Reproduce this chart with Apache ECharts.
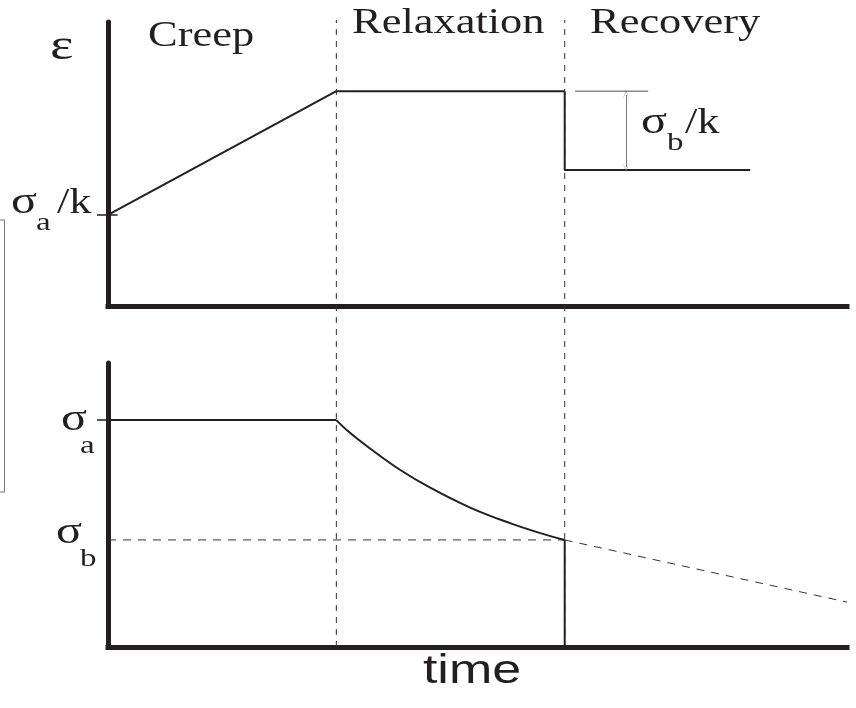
<!DOCTYPE html>
<html>
<head>
<meta charset="utf-8">
<script src="https://cdn.jsdelivr.net/npm/echarts@6/dist/echarts.min.js"></script>
<style>
html, body { margin: 0; padding: 0; background: #fff; }
#chart { width: 856px; height: 708px; }
</style>
</head>
<body>
<div id="chart"></div>
<script>
// time runs 0..100 (arbitrary units), shared by both panels
const tCreepEnd = 30.9
const tRelaxEnd = 61.8
const tRecoveryEnd = 86.9
const tMax = 100

// strain panel (top), arbitrary units 0..100
const strainCreep = [[0, 32.2], [tCreepEnd, 75.7]]
const strainHold = [[tCreepEnd, 75.7], [tRelaxEnd, 75.7]]
const strainRecovery = [[tRelaxEnd, 75.7], [tRelaxEnd, 48.0], [tRecoveryEnd, 48.0]]
const strainRefLine = [[63.2, 75.7], [73.1, 75.7]]
const strainArrow = [[70.1, 74.3], [70.1, 49.0]]
const strainTick = [[0, 32.2], [1.3, 32.2]]

// stress panel (bottom), arbitrary units 0..100
const stressHold = [[0, 79.9], [tCreepEnd, 79.9]]
const stressRelax = [
  [30.9, 79.9], [32.7, 75.5], [35.5, 69.8], [39.5, 62.4], [43.6, 56.1],
  [49.0, 49.1], [54.4, 43.6], [58.5, 40.1], [61.8, 37.7]
]
const stressDrop = [[tRelaxEnd, 37.7], [tRelaxEnd, 0]]
const stressBLevel = [[0, 37.7], [tRelaxEnd, 37.7]]
const stressExtrap = [[tRelaxEnd, 37.7], [tMax, 15.8]]

const ink = '#231f20'
const serif = '"Liberation Serif", "DejaVu Serif", serif'
const stretch = 1.27

function solid (name, data, grid, color, width) {
  return {
    name: name, type: 'line', data: data,
    xAxisIndex: grid, yAxisIndex: grid,
    symbol: 'none', silent: true,
    lineStyle: { color: color || ink, width: width || 2 }
  }
}
function dashed (name, data, grid, dash) {
  return {
    name: name, type: 'line', data: data,
    xAxisIndex: grid, yAxisIndex: grid,
    symbol: 'none', silent: true,
    lineStyle: { color: '#333', width: 1, type: dash || [8, 7] }
  }
}
function txt (text, x, y, size) {
  return {
    type: 'text', x: x, y: y, scaleX: stretch,
    style: {
      text: text, fill: ink,
      font: (size || 35) + 'px ' + serif,
      textAlign: 'left', textVerticalAlign: 'middle'
    }
  }
}

const chart = echarts.init(document.getElementById('chart'))
const xAxisBase = {
  type: 'value', min: 0, max: tMax,
  axisLine: { show: true, lineStyle: { color: ink, width: 5, cap: 'square' } },
  axisTick: { show: false }, axisLabel: { show: false }, splitLine: { show: false }
}
const yAxisBase = {
  type: 'value', min: 0, max: 100,
  axisLine: { show: true, lineStyle: { color: ink, width: 5 } },
  axisLabel: { show: false }, splitLine: { show: false }
}

const options = {
  animation: false,
  backgroundColor: '#fff',
  grid: [
    { left: 108, top: 22, width: 739, height: 284.5 },
    { left: 108, top: 363, width: 739, height: 284 },
    { left: 108, top: 20, width: 739, height: 627 }
  ],
  xAxis: [
    Object.assign({ gridIndex: 0 }, xAxisBase),
    Object.assign({ gridIndex: 1 }, xAxisBase),
    { gridIndex: 2, type: 'value', min: 0, max: tMax, show: false }
  ],
  yAxis: [
    Object.assign({ gridIndex: 0 }, yAxisBase, {
      axisTick: { show: true, customValues: [32.2], length: 11, lineStyle: { color: ink, width: 1.5 } }
    }),
    Object.assign({ gridIndex: 1 }, yAxisBase, {
      axisTick: { show: true, customValues: [79.9], length: 11, lineStyle: { color: ink, width: 1.5 } }
    }),
    { gridIndex: 2, type: 'value', min: 0, max: 1, show: false }
  ],
  series: [
    dashed('phase1', [[tCreepEnd, 0], [tCreepEnd, 1]], 2, [6, 6]),
    dashed('phase2', [[tRelaxEnd, 0], [tRelaxEnd, 1]], 2, [6, 6]),
    solid('strainTick', strainTick, 0, ink, 1.5),
    solid('creep', strainCreep, 0),
    solid('hold', strainHold, 0),
    solid('recovery', strainRecovery, 0),
    Object.assign(solid('ref', strainRefLine, 0, '#888', 1.5), {
      markLine: {
        silent: true,
        symbol: ['path://M0,10 L5,0 L10,10 L5,1.5 Z', 'path://M0,10 L5,0 L10,10 L5,1.5 Z'],
        symbolSize: [7, 10],
        label: { show: false },
        lineStyle: { color: '#777', width: 1, type: 'solid' },
        data: [[{ coord: strainArrow[0] }, { coord: strainArrow[1] }]]
      }
    }),
    dashed('sigmaB', stressBLevel, 1),
    dashed('extrap', stressExtrap, 1),
    solid('stressHold', stressHold, 1),
    Object.assign(solid('stressRelax', stressRelax, 1), { smooth: 0.4 }),
    solid('stressDrop', stressDrop, 1)
  ],
  graphic: [
    txt('Creep', 148, 36.5),
    txt('Relaxation', 352, 23.5),
    txt('Recovery', 590, 23.5),
    txt('ε', 50, 47, 44),
    txt('σ', 11, 203, 38), txt('a', 36, 223, 26), txt('/k', 57, 203.5),
    txt('σ', 61, 420, 38), txt('a', 80, 446, 26),
    txt('σ', 56, 533, 38), txt('b', 80, 559, 26),
    txt('σ', 641, 123, 38), txt('b', 667, 143, 26), txt('/k', 685, 123.5),
    {
      type: 'text', x: 472, y: 672, scaleX: 1.3,
      style: {
        text: 'time', fill: ink, font: '40px "Liberation Sans", Arial, sans-serif',
        textAlign: 'center', textVerticalAlign: 'middle'
      }
    },
    {
      type: 'polyline', silent: true,
      shape: { points: [[0, 220], [4.5, 220], [4.5, 492], [0, 492]] },
      style: { stroke: '#777', lineWidth: 1, fill: null }
    }
  ]
}
chart.setOption(options)
window.addEventListener('resize', function () {
  chart.resize()
})
</script>
</body>
</html>
